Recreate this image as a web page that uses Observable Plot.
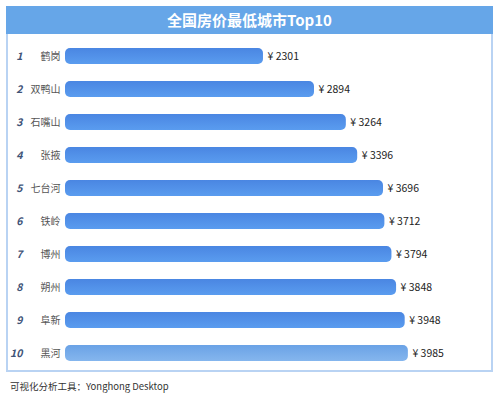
<!DOCTYPE html>
<html>
<head>
<meta charset="utf-8">
<script src="https://cdn.jsdelivr.net/npm/d3@7"></script>
<script src="https://cdn.jsdelivr.net/npm/@observablehq/plot@0.6"></script>
<style>
  html, body { margin: 0; padding: 0; background: #fff; }
  body { width: 499px; height: 397px; position: relative; overflow: hidden;
         font-family: "Noto Sans CJK SC", "Noto Sans", sans-serif; }
  #frame { position: absolute; left: 6px; top: 6px; width: 483px; height: 364px;
           border: 2px solid #b9d3f3; border-top: none; }
  #title { position: absolute; left: 6px; top: 6px; width: 487px; height: 28px;
           background: #66a6e8; color: #fff; font-weight: bold; font-size: 15px;
           line-height: 28px; text-align: center; }
  #chart { position: absolute; left: 8px; top: 34px; }
  #caption { position: absolute; left: 10px; top: 379px; font-size: 9.5px; color: #333; }
</style>
</head>
<body>
<div id="frame"></div>
<div id="title">全国房价最低城市Top10</div>
<div id="chart"></div>
<div id="caption">可视化分析工具：Yonghong Desktop</div>
<script>
const ranks = [1, 2, 3, 4, 5, 6, 7, 8, 9, 10];
const cities = ["鹤岗", "双鸭山", "石嘴山", "张掖", "七台河", "铁岭", "博州", "朔州", "阜新", "黑河"];
const prices = [2301, 2894, 3264, 3396, 3696, 3712, 3794, 3848, 3948, 3985];

const data = ranks.map((r, i) => ({rank: r, city: cities[i], price: prices[i]}));

const plot = Plot.plot({
  width: 483,
  height: 340,
  marginLeft: 57,
  marginRight: 13,
  marginTop: 0,
  marginBottom: 0,
  style: {fontFamily: '"Noto Sans CJK SC", "Noto Sans", sans-serif', background: "transparent"},
  x: {domain: [0, 4800], axis: null},
  y: {domain: ranks, axis: null, paddingInner: 0.525, paddingOuter: 0.29},
  marks: [
    Plot.barX(data.filter(d => d.rank !== 10), {x: "price", y: "rank", fill: "url(#barGrad)", rx: 5}),
    Plot.barX(data.filter(d => d.rank === 10), {x: "price", y: "rank", fill: "url(#barGradLight)", rx: 5}),
    Plot.text(data, {x: 0, y: "rank", text: d => String(d.rank), dx: -43, textAnchor: "end",
      fontWeight: "bold", fontStyle: "italic", fontSize: 10.5, fill: "#3f5478"}),
    Plot.text(data, {x: 0, y: "rank", text: "city", dx: -5, textAnchor: "end",
      fontSize: 10, fill: "#555"}),
    Plot.text(data, {x: "price", y: "rank", text: d => "¥ " + d.price, dx: 4, textAnchor: "start",
      fontSize: 10.5, fill: "#222"})
  ]
});

const svg = d3.select(plot);
const defs = svg.insert("defs", ":first-child");
const g1 = defs.append("linearGradient").attr("id", "barGrad").attr("x1", 0).attr("y1", 0).attr("x2", 0).attr("y2", 1);
g1.append("stop").attr("offset", "0%").attr("stop-color", "#4a86e2");
g1.append("stop").attr("offset", "100%").attr("stop-color", "#5a9cef");
const g2 = defs.append("linearGradient").attr("id", "barGradLight").attr("x1", 0).attr("y1", 0).attr("x2", 0).attr("y2", 1);
g2.append("stop").attr("offset", "0%").attr("stop-color", "#6aa2e6");
g2.append("stop").attr("offset", "100%").attr("stop-color", "#85b6ee");

document.getElementById("chart").appendChild(plot);
</script>
</body>
</html>
